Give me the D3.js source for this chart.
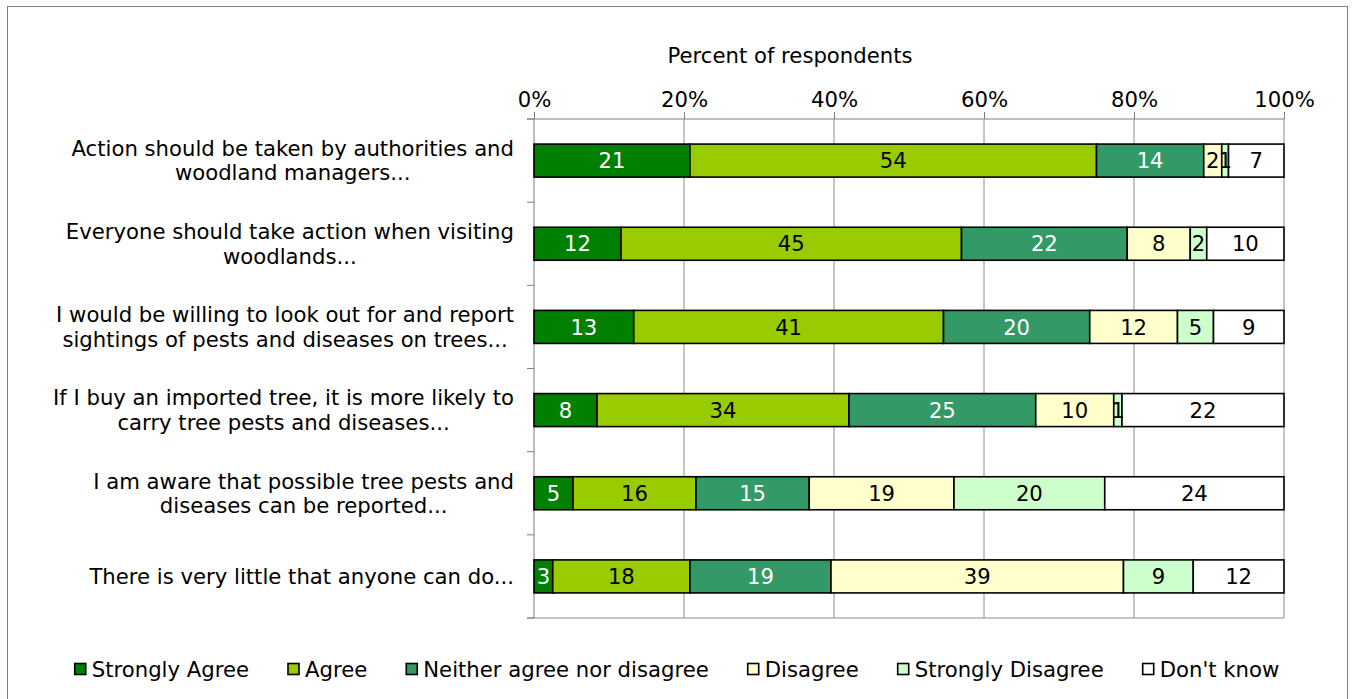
<!DOCTYPE html>
<html>
<head>
<meta charset="utf-8">
<script src="https://cdn.jsdelivr.net/npm/d3@7"></script>
<style>
  html, body { margin: 0; padding: 0; background: #fff; }
  svg { display: block; }
  text { font-family: "DejaVu Sans", Verdana, sans-serif; fill: #000; }
</style>
</head>
<body>
<svg id="chart" width="1355" height="699"></svg>
<script>
// ---- Data ----
const categories = [
  ["Action should be taken by authorities and", "woodland managers..."],
  ["Everyone should take action when visiting", "woodlands..."],
  ["I would be willing to look out for and report", "sightings of pests and diseases on trees..."],
  ["If I buy an imported tree, it is more likely to", "carry tree pests and diseases..."],
  ["I am aware that possible tree pests and", "diseases can be reported..."],
  ["There is very little that anyone can do..."]
];
const seriesNames = ["Strongly Agree", "Agree", "Neither agree nor disagree", "Disagree", "Strongly Disagree", "Don't know"];
const stronglyAgree    = [20.8, 11.6, 13.3, 8.4, 5.2, 2.5];
const agree            = [54.2, 45.4, 41.3, 33.6, 16.4, 18.3];
const neither          = [14.3, 22.1, 19.5, 24.9, 15.1, 18.8];
const disagree         = [2.4, 8.4, 11.7, 10.4, 19.3, 39.0];
const stronglyDisagree = [0.9, 2.2, 4.8, 1.1, 20.1, 9.3];
const dontKnow         = [7.4, 10.3, 9.4, 21.6, 23.9, 12.1];
const xTicks = [0, 0.2, 0.4, 0.6, 0.8, 1.0];
const xTitle = "Percent of respondents";

// ---- Styles ----
const colors = ["#008000", "#99cc00", "#339966", "#ffffcc", "#ccffcc", "#ffffff"];
const labelColors = ["#ffffff", "#000000", "#ffffff", "#000000", "#000000", "#000000"];
const FONT = 21.2;

const seriesValues = [stronglyAgree, agree, neither, disagree, stronglyDisagree, dontKnow];
const keys = seriesNames;
const table = categories.map((c, i) => {
  const row = { idx: i };
  keys.forEach((k, j) => row[k] = seriesValues[j][i]);
  return row;
});

const svg = d3.select("#chart");

// Outer border
svg.append("rect").attr("x", 7.5).attr("y", 6.5).attr("width", 1340).attr("height", 710)
  .attr("fill", "#fff").attr("stroke", "#7f7f7f").attr("stroke-width", 1);

const plot = { left: 534, right: 1284, top: 119, bottom: 618 };

const x = d3.scaleLinear().domain([0, 1]).range([plot.left, plot.right]);
const y = d3.scaleBand().domain(d3.range(categories.length))
  .range([plot.top, plot.bottom]).paddingInner(0.603).paddingOuter(0.3015);

const stack = d3.stack().keys(keys).offset(d3.stackOffsetExpand);
const stacked = stack(table);

// Gridlines + top axis ticks
const xAxis = d3.axisTop(x).tickValues(xTicks).tickFormat(d3.format(".0%")).tickSize(7).tickPadding(5);
const gx = svg.append("g").attr("transform", `translate(0,${plot.top})`).call(xAxis);
gx.select(".domain").remove();
gx.selectAll(".tick line").attr("stroke", "#7f7f7f");
gx.selectAll(".tick text").style("font-size", FONT + "px").style("font-family", '"DejaVu Sans", Verdana, sans-serif').attr("fill", "#000");

svg.append("g").selectAll("line.grid").data(xTicks.slice(1)).join("line")
  .attr("x1", d => x(d)).attr("x2", d => x(d))
  .attr("y1", plot.top).attr("y2", plot.bottom)
  .attr("stroke", "#8c8c8c").attr("stroke-width", 1);

// Top and bottom plot lines
svg.append("line").attr("x1", plot.left - 7).attr("x2", plot.right).attr("y1", plot.top).attr("y2", plot.top)
  .attr("stroke", "#7f7f7f");
svg.append("line").attr("x1", plot.left - 7).attr("x2", plot.right).attr("y1", plot.bottom).attr("y2", plot.bottom)
  .attr("stroke", "#8c8c8c");

// Left axis with boundary ticks
const boundaries = d3.range(categories.length + 1).map(i => plot.top + i * y.step());
svg.append("line").attr("x1", plot.left).attr("x2", plot.left).attr("y1", plot.top).attr("y2", plot.bottom)
  .attr("stroke", "#7f7f7f");
svg.append("g").selectAll("line").data(boundaries).join("line")
  .attr("x1", plot.left - 7).attr("x2", plot.left).attr("y1", d => d).attr("y2", d => d)
  .attr("stroke", "#7f7f7f");

// X title
svg.append("text").attr("x", 790).attr("y", 63).attr("text-anchor", "middle")
  .style("font-size", FONT + "px").text(xTitle);

// Bars
const gBars = svg.append("g");
stacked.forEach((s, si) => {
  const g = gBars.append("g");
  g.selectAll("rect").data(s).join("rect")
    .attr("x", d => x(d[0])).attr("width", d => x(d[1]) - x(d[0]))
    .attr("y", (d, i) => y(i)).attr("height", y.bandwidth())
    .attr("fill", colors[si]).attr("stroke", "#000").attr("stroke-width", 1.6);
});
stacked.forEach((s, si) => {
  gBars.append("g").selectAll("text").data(s).join("text")
    .attr("x", d => (x(d[0]) + x(d[1])) / 2)
    .attr("y", (d, i) => y(i) + y.bandwidth() / 2)
    .attr("dy", "0.36em")
    .attr("text-anchor", "middle")
    .style("font-size", FONT + "px")
    .style("fill", labelColors[si])
    .text(d => Math.round(d.data[keys[si]]));
});

// Category labels
const lineH = 24.5;
const labelRight = 514;
categories.forEach((lines, i) => {
  const g = svg.append("g");
  const cy = y(i) + y.bandwidth() / 2;
  const texts = lines.map((ln, j) => g.append("text")
    .attr("text-anchor", "middle")
    .attr("y", cy + (j - (lines.length - 1) / 2) * lineH)
    .attr("dy", "0.36em")
    .style("font-size", FONT + "px").text(ln));
  const maxW = d3.max(texts, t => t.node().getComputedTextLength());
  texts.forEach(t => t.attr("x", labelRight - maxW / 2));
});

// Legend
const sq = 12, sqGap = 6, itemGap = 38;
const legend = svg.append("g");
const items = seriesNames.map((name, i) => {
  const g = legend.append("g");
  g.append("rect").attr("x", 0).attr("y", 663.5).attr("width", sq - 1).attr("height", sq - 1)
    .attr("fill", colors[i]).attr("stroke", "#000").attr("stroke-width", 1.6);
  const t = g.append("text").attr("x", sq + sqGap - 1).attr("y", 677)
    .style("font-size", FONT + "px").text(name);
  return { g, w: sq + sqGap + t.node().getComputedTextLength() };
});
const total = d3.sum(items, d => d.w) + itemGap * (items.length - 1);
let cx = 677.5 - total / 2;
items.forEach(it => { it.g.attr("transform", `translate(${cx},0)`); cx += it.w + itemGap; });
</script>
</body>
</html>
